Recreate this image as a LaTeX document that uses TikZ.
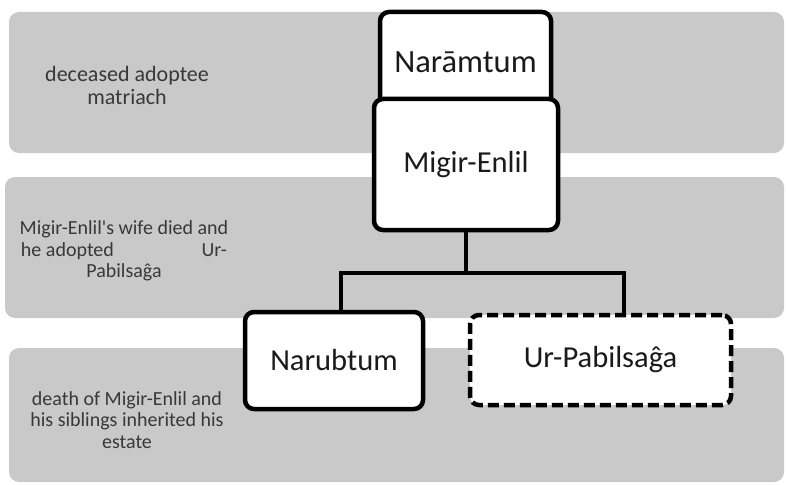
\documentclass[tikz,border=0pt]{standalone}
\usepackage{fontspec}
\setmainfont{Carlito}
\begin{document}
\definecolor{bandgray}{HTML}{C9C9C9}
\definecolor{bandtext}{HTML}{383838}
\definecolor{boxtext}{HTML}{1A1A1A}
\begin{tikzpicture}[x=1pt,y=-1pt,
  band/.style={fill=bandgray,rounded corners=10pt,draw=none},
  bandlabel/.style={text=bandtext,align=center,font=\fontsize{20}{21.5}\selectfont,inner sep=0pt},
  person/.style={draw=black,fill=white,line width=4.5pt,rounded corners=9pt,
    text=boxtext,font=\fontsize{30.5}{34}\selectfont,inner sep=0pt},
  adopted/.style={person,dash pattern=on 11pt off 5pt},
  link/.style={draw=black,line width=4.5pt}]
\useasboundingbox (0,0) rectangle (786,484);
% generation bands
\fill[band] (9,12) rectangle (784,153);
\fill[band] (5,177) rectangle (784,318);
\fill[band] (9,348) rectangle (784,482);
\node[bandlabel,font=\fontsize{22}{23}\selectfont] (gen1) at (127,85) {deceased adoptee\\matriach};
\node[bandlabel] (gen2) at (124,251) {Migir-Enlil\textquotesingle s wife died and\\
  \makebox[206pt][s]{he adopted\hfill Ur-}\\Pabilsaĝa};
\node[bandlabel] (gen3) at (127,420) {death of Migir-Enlil and\\his siblings inherited his\\estate};
% family members
\node[person,font=\fontsize{32.5}{36}\selectfont,minimum width=171pt,minimum height=100pt] (naramtum) at (465.5,62) {Narāmtum};
\node[person,minimum width=184pt,minimum height=131pt] (migir) at (466,164.5) {Migir-Enlil};
\node[person,minimum width=178pt,minimum height=97pt] (narubtum) at (334,360.5) {Narubtum};
\node[adopted,minimum width=261pt,minimum height=90pt] (urpab) at (600.5,360) {Ur-Pabilsaĝa};
% descent lines
\coordinate (fork) at (466,273);
\coordinate (forkL) at (341,273);
\coordinate (forkR) at (624,273);
\draw[link] (migir.south) -- (fork);
\draw[link] (fork) -- (forkL) -- (forkL |- narubtum.north);
\draw[link] (fork) -- (forkR) -- (forkR |- urpab.north);
\end{tikzpicture}
\end{document}
